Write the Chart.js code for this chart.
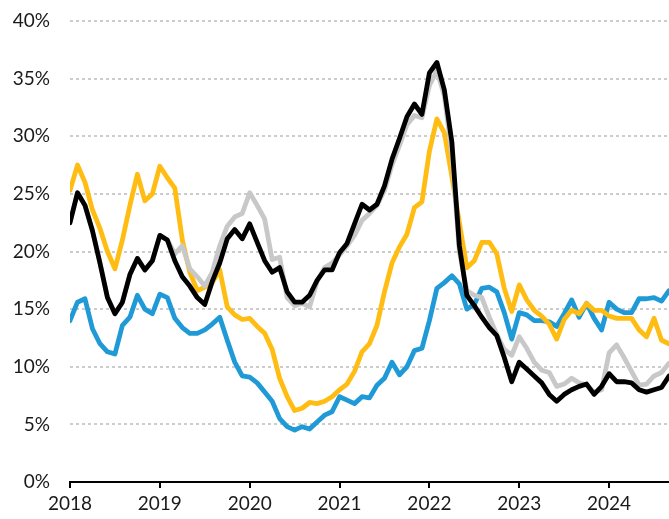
<!DOCTYPE html>
<html>
<head>
<meta charset="utf-8">
<script src="https://cdn.jsdelivr.net/npm/chart.js@4"></script>
<style>
  html, body { margin: 0; padding: 0; background: #fff; }
  #wrap { width: 669px; height: 519px; position: relative; }
</style>
</head>
<body>
<div id="wrap"><canvas id="lineChart"></canvas></div>
<script>
  // monthly, Jan 2018 .. Sep 2024
  const yearTicks = ['2018', '2019', '2020', '2021', '2022', '2023', '2024'];

  const blackLine = [
    22.5, 25.1, 24.0, 21.8, 19.0, 16.0, 14.6, 15.6, 18.0, 19.4, 18.4, 19.2,
    21.4, 21.0, 19.2, 17.8, 17.0, 16.0, 15.4, 17.4, 19.0, 21.1, 21.9, 21.1,
    22.4, 20.8, 19.2, 18.2, 18.6, 16.5, 15.6, 15.6, 16.2, 17.5, 18.4, 18.4,
    19.9, 20.7, 22.4, 24.1, 23.6, 24.1, 25.7, 28.0, 29.8, 31.7, 32.8, 31.9,
    35.5, 36.4, 34.0, 29.5, 20.5, 16.2, 15.3, 14.3, 13.4, 12.7, 10.8, 8.7,
    10.4, 9.8, 9.2, 8.6, 7.6, 7.0, 7.6, 8.0, 8.3, 8.5, 7.6, 8.3,
    9.4, 8.7, 8.7, 8.6, 8.0, 7.8, 8.0, 8.2, 9.2
  ];

  const greyLine = [
    22.5, 25.1, 24.0, 21.8, 19.0, 16.0, 14.6, 15.6, 18.0, 19.4, 18.4, 19.2,
    21.4, 21.0, 19.8, 20.5, 18.5, 17.8, 17.0, 18.2, 20.5, 22.2, 23.0, 23.3,
    25.1, 24.0, 22.8, 19.3, 19.5, 16.0, 15.3, 15.5, 15.2, 17.4, 18.6, 19.0,
    19.7, 20.5, 21.4, 22.7, 23.3, 24.0, 25.3, 27.5, 29.2, 31.0, 31.8, 31.6,
    34.4, 35.7, 33.5, 28.5, 20.0, 16.6, 16.2, 16.0, 14.3, 12.8, 11.5, 11.0,
    12.6, 11.6, 10.4, 9.7, 9.5, 8.3, 8.5, 9.0, 8.6, 8.4, 7.8, 8.0,
    11.2, 11.9, 10.8, 9.6, 8.4, 8.5, 9.2, 9.5, 10.3
  ];

  const yellowLine = [
    25.3, 27.5, 26.0, 23.6, 22.0, 20.0, 18.5, 21.0, 24.0, 26.7, 24.4, 25.0,
    27.4, 26.4, 25.5, 21.0, 18.2, 16.6, 16.9, 17.3, 18.4, 15.2, 14.5, 14.1,
    14.2, 13.5, 12.9, 11.5, 9.0, 7.4, 6.2, 6.4, 6.9, 6.8, 7.0, 7.4,
    8.0, 8.5, 9.6, 11.3, 12.0, 13.6, 16.5, 19.0, 20.4, 21.5, 23.8, 24.3,
    28.7, 31.5, 30.3, 26.5, 22.5, 18.6, 19.2, 20.8, 20.8, 19.8, 16.8, 14.8,
    17.1, 15.8, 14.9, 14.4, 13.7, 12.4, 14.1, 14.9, 14.6, 15.5, 14.9, 14.9,
    14.4, 14.2, 14.2, 14.2, 13.2, 12.6, 14.2, 12.3, 12.0
  ];

  const blueLine = [
    14.0, 15.6, 15.9, 13.3, 12.0, 11.3, 11.1, 13.6, 14.3, 16.2, 15.0, 14.6,
    16.3, 16.0, 14.2, 13.4, 12.9, 12.9, 13.2, 13.7, 14.3, 12.3, 10.4, 9.2,
    9.1, 8.6, 7.8, 7.0, 5.5, 4.8, 4.5, 4.8, 4.6, 5.2, 5.8, 6.1,
    7.4, 7.1, 6.8, 7.4, 7.3, 8.4, 9.0, 10.4, 9.3, 10.0, 11.4, 11.6,
    14.0, 16.8, 17.3, 17.9, 17.2, 15.0, 15.4, 16.8, 16.9, 16.5, 14.7, 12.4,
    14.7, 14.5, 14.0, 14.0, 13.9, 13.5, 14.6, 15.8, 14.3, 15.5, 14.2, 13.2,
    15.6, 15.0, 14.7, 14.7, 15.9, 15.9, 16.0, 15.7, 16.6
  ];

  const toPoints = arr => arr.map((v, i) => ({ x: i, y: v }));

  const line = (data, color) => ({
    data: toPoints(data),
    borderColor: color,
    borderWidth: 4.8,
    pointRadius: 0,
    tension: 0,
    borderJoinStyle: 'round',
    borderCapStyle: 'round'
  });

  Chart.defaults.font.family = 'Lato';
  Chart.defaults.font.size = 19;
  Chart.defaults.color = '#1a1a1a';

  const config = {
    type: 'line',
    data: {
      // first one is drawn on top
      datasets: [
        line(blackLine, '#000000'),
        line(greyLine, '#c8c8c8'),
        line(yellowLine, '#ffbd14'),
        line(blueLine, '#1f9ad6')
      ]
    },
    options: {
      responsive: true,
      maintainAspectRatio: false,
      animation: false,
      layout: { padding: { top: 21, right: 0, bottom: 0, left: 0 } },
      plugins: {
        legend: { display: false },
        tooltip: { enabled: false }
      },
      scales: {
        x: {
          type: 'linear',
          min: 0,
          max: blackLine.length - 1,
          afterFit: (s) => { s.height = 37 },
          border: { color: '#000', width: 2 },
          grid: {
            drawOnChartArea: false,
            drawTicks: true,
            tickLength: 6,
            color: '#000',
            lineWidth: 2
          },
          ticks: {
            stepSize: 12,
            includeBounds: false,
            autoSkip: false,
            maxRotation: 0,
            padding: 4,
            callback: (v) => yearTicks[v / 12] || ''
          }
        },
        y: {
          min: 0,
          max: 40,
          afterFit: (s) => {
            s.width = 70;
            s.paddingTop = 0;
            s.paddingBottom = 0;
          },
          border: { display: false, dash: [3, 3] },
          grid: {
            drawTicks: false,
            lineWidth: 2,
            color: (ctx) => ctx.tick && ctx.tick.value === 0 ? 'rgba(0,0,0,0)' : '#cccccc'
          },
          ticks: {
            stepSize: 5,
            padding: 20,
            callback: (v) => v + '%'
          }
        }
      }
    }
  };

  const myChart = new Chart(document.getElementById('lineChart'), config);
</script>
</body>
</html>
